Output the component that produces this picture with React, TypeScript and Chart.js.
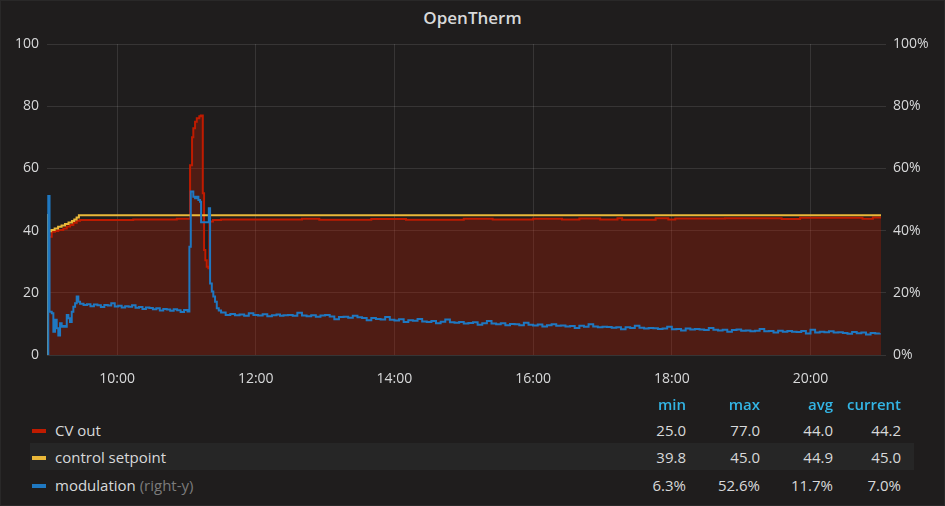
import React, { useEffect, useRef } from "react";
import { Chart, registerables } from "chart.js";

Chart.register(...registerables);

// ---------- data (time = minutes since midnight) ----------
const X_MIN = 539.4;
const X_MAX = 1261;

const xTickMinutes = [600, 720, 840, 960, 1080, 1200];
const xTickLabels = ["10:00", "12:00", "14:00", "16:00", "18:00", "20:00"];
const leftTicks = [0, 20, 40, 60, 80, 100];
const leftTickLabels = ["0", "20", "40", "60", "80", "100"];
const rightTickLabels = ["0%", "20%", "40%", "60%", "80%", "100%"];

// CV out (left axis)
const cvTimes = [
  540.5, 543.5, 546.3, 549.2, 553.5, 556.5, 559.3, 562.2, 565.1, 568, 614, 651.7,
  663.2, 664.9, 666, 667.5, 669, 671.2, 672.5, 674.2, 675.3, 676.4, 677.6, 679, 679.9,
  683, 690, 760, 775, 820, 850, 900, 925, 960, 985, 1000, 1018, 1033, 1037, 1066, 1077,
  1083, 1126, 1175, 1191, 1245, 1254, 1261,
];
const cvValues = [
  38.0, 39.6, 39.9, 40.2, 40.7, 41.3, 41.8, 42.5, 43.2, 43.4, 43.6, 43.8,
  61.0, 70.0, 72.9, 75.0, 76.1, 76.8, 77.0, 52.0, 33.8, 30.5, 28.4, 27.9, 42.9,
  43.4, 43.6, 43.8, 43.5, 43.7, 43.5, 43.8, 43.6, 43.8, 43.6, 43.9, 43.6, 44.0, 43.5, 44.0, 43.6,
  43.9, 44.0, 43.7, 44.1, 43.8, 44.2, 44.2,
];

// control setpoint (left axis)
const spTimes = [539.4, 539.6, 540.5, 543, 546, 549, 552, 555, 558, 561, 563, 565, 567, 1261];
const spValues = [0, 45.0, 39.8, 40.2, 40.7, 41.2, 41.6, 42.1, 42.6, 43.1, 43.6, 44.2, 44.9, 44.9];

// modulation (right axis, %)
const modHeadTimes = [
  539.9, 540.5, 541.6, 543.5, 544.9, 546.3, 547.8, 549.2, 550.7, 552.1, 553.5, 555, 556.5,
  557.9, 559.3, 560.8, 562.2, 563.7, 565.1, 566.5,
  568, 571, 574, 577, 580, 583, 586, 589, 592, 595, 598, 601, 604, 607, 610, 613, 616, 619,
  622, 625, 628, 631, 634, 637, 640, 643, 646, 649, 652, 655, 658, 661,
  662.6, 663.8, 666, 667.5, 669, 670.4, 671.8, 672.7, 679.4, 680.5, 682, 683.3, 684.8,
  686.3, 688, 690, 694, 698, 702, 706, 710, 714, 718, 722, 726, 730, 734, 738, 741,
];
const modHeadValues = [
  0, 51.1, 13.9, 13.4, 7.5, 11.3, 8.6, 6.3, 10.2, 9.1, 9.3, 9.1, 12.9,
  11.8, 10.6, 13.9, 15.5, 16.6, 18.8, 17.1,
  16.5, 16.1, 16.3, 15.7, 16.2, 16.0, 15.4, 16.1, 15.9, 16.6, 15.6, 15.8, 15.3, 15.7, 15.5, 16.0,
  15.2, 15.4, 14.8, 15.3, 15.1, 14.7, 15.0, 14.3, 14.8, 14.6, 14.2, 14.7, 14.4, 13.8, 14.5, 14.0,
  34.8, 52.6, 50.9, 50.4, 50.9, 49.8, 49.3, 42.7, 47.2, 23.0, 20.4, 18.8, 17.1,
  15.0, 14.3, 13.7, 12.9, 13.2, 12.8, 13.0, 12.6, 13.4, 12.9, 12.7, 13.1, 12.5, 12.8, 13.0, 12.6,
];
// tail samples every 4 minutes from 12:24 to 21:00
const modTailStart = 744;
const modTailStep = 4;
const modTailValues = [
  12.8, 12.9, 12.6, 13.6, 12.7, 12.5, 12.8, 12.3, 12.7, 12.9,
  12.4, 11.5, 12.2, 12.3, 12.0, 12.6, 12.1, 11.9, 11.2, 11.9,
  11.6, 11.4, 12.2, 11.3, 11.1, 11.5, 10.6, 11.2, 11.0, 11.6,
  10.8, 10.6, 10.9, 10.2, 10.7, 11.4, 10.5, 10.4, 10.6, 10.1,
  10.3, 10.5, 9.7, 10.2, 10.9, 10.1, 9.9, 10.2, 9.6, 10.0,
  9.9, 9.6, 10.4, 9.7, 9.5, 9.8, 9.2, 9.6, 9.9, 9.4,
  9.5, 9.2, 9.3, 8.7, 9.4, 9.1, 9.9, 9.2, 8.9, 9.1,
  9.0, 8.8, 8.9, 8.3, 8.9, 8.7, 9.4, 8.8, 8.5, 8.7,
  8.6, 8.4, 8.5, 9.1, 8.3, 8.4, 7.9, 8.5, 8.2, 8.4,
  8.2, 8.0, 8.7, 8.1, 7.9, 8.1, 7.5, 8.0, 8.2, 7.8,
  7.9, 7.6, 7.8, 8.4, 7.6, 7.7, 7.2, 7.8, 7.5, 7.7,
  7.5, 7.4, 7.7, 6.9, 8.1, 7.2, 7.5, 7.3, 7.6, 7.2,
  7.3, 7.1, 6.8, 7.4, 7.0, 7.2, 6.6, 7.1, 6.9, 7.0,
];

// legend table
const seriesNames = ["CV out", "control setpoint", "modulation"];
const seriesSuffix = ["", "", "(right-y)"];
const statHeaders = ["min", "max", "avg", "current"];
const statMin = ["25.0", "39.8", "6.3%"];
const statMax = ["77.0", "45.0", "52.6%"];
const statAvg = ["44.0", "44.9", "11.7%"];
const statCurrent = ["44.2", "45.0", "7.0%"];

// ---------- styles ----------
const BG = "#1f1d1d";
const TEXT = "#d8d9da";
const GRID = "rgba(255,255,255,0.11)";
const RED = "#bf1b00";
const YELLOW = "#eab839";
const BLUE = "#1f78c1";
const FONT = "'Open Sans', 'DejaVu Sans', sans-serif";

const toPoints = (ts: number[], vs: number[]) => ts.map((t, i) => ({ x: t, y: vs[i] }));

export default function App() {
  const canvasRef = useRef<HTMLCanvasElement | null>(null);

  useEffect(() => {
    const canvas = canvasRef.current;
    if (!canvas) return;
    const modTimes = modHeadTimes.concat(modTailValues.map((_, i) => modTailStart + i * modTailStep));
    const modValues = modHeadValues.concat(modTailValues);

    const tickFont = { family: "'Open Sans', sans-serif", size: 14 };

    const chart = new Chart(canvas, {
      type: "line",
      data: {
        datasets: [
          {
            label: "modulation",
            data: toPoints(modTimes, modValues),
            yAxisID: "y1",
            borderColor: BLUE,
            borderWidth: 2,
            pointRadius: 0,
            stepped: true,
            fill: false,
            order: 1,
          },
          {
            label: "control setpoint",
            data: toPoints(spTimes, spValues),
            yAxisID: "y",
            borderColor: YELLOW,
            borderWidth: 2,
            pointRadius: 0,
            stepped: true,
            fill: false,
            order: 2,
          },
          {
            label: "CV out",
            data: toPoints(cvTimes, cvValues),
            yAxisID: "y",
            borderColor: RED,
            backgroundColor: "rgba(191,27,0,0.3)",
            borderWidth: 2,
            pointRadius: 0,
            stepped: true,
            fill: "origin",
            order: 3,
          },
        ],
      },
      options: {
        responsive: false,
        animation: false,
        devicePixelRatio: 1,
        layout: { padding: { top: 44, left: 0, right: 0, bottom: 0 } },
        plugins: { legend: { display: false }, tooltip: { enabled: false }, title: { display: false } },
        scales: {
          x: {
            type: "linear",
            min: X_MIN,
            max: X_MAX,
            z: 1,
            afterBuildTicks: (s: any) => {
              s.ticks = xTickMinutes.map((v) => ({ value: v }));
            },
            afterFit: (s: any) => {
              s.height = 40;
            },
            ticks: {
              color: TEXT,
              font: tickFont,
              padding: 16,
              maxRotation: 0,
              autoSkip: false,
              callback: (v: any) => {
                const i = xTickMinutes.indexOf(Number(v));
                return i >= 0 ? xTickLabels[i] : "";
              },
            },
            grid: { color: GRID, drawTicks: false, lineWidth: 1 },
            border: { display: false },
          },
          y: {
            position: "left",
            min: 0,
            max: 100,
            z: 1,
            afterBuildTicks: (s: any) => {
              s.ticks = leftTicks.map((v) => ({ value: v }));
            },
            afterFit: (s: any) => {
              s.width = 47;
            },
            ticks: {
              color: TEXT,
              font: tickFont,
              padding: 8,
              callback: (v: any) => {
                const i = leftTicks.indexOf(Number(v));
                return i >= 0 ? leftTickLabels[i] : "";
              },
            },
            grid: { color: GRID, drawTicks: false, lineWidth: 1 },
            border: { display: false },
          },
          y1: {
            position: "right",
            min: 0,
            max: 100,
            z: 1,
            afterBuildTicks: (s: any) => {
              s.ticks = leftTicks.map((v) => ({ value: v }));
            },
            afterFit: (s: any) => {
              s.width = 64;
            },
            ticks: {
              color: TEXT,
              font: tickFont,
              padding: 7,
              callback: (v: any) => {
                const i = leftTicks.indexOf(Number(v));
                return i >= 0 ? rightTickLabels[i] : "";
              },
            },
            grid: { color: GRID, drawOnChartArea: false, tickLength: 5, lineWidth: 1 },
            border: { display: false },
          },
        },
      },
    } as any);
    return () => chart.destroy();
  }, []);

  const colRight = [686, 760, 833, 901];
  const rowCenters = [430, 457, 485];
  const markerColors = [RED, YELLOW, BLUE];
  const stats = [statMin, statMax, statAvg, statCurrent];

  const cell = (text: string, right: number, center: number, extra: any = {}) => (
    <div
      style={{
        position: "absolute",
        left: right - 100,
        width: 100,
        top: center - 10,
        height: 20,
        lineHeight: "20px",
        textAlign: "right",
        whiteSpace: "nowrap",
        ...extra,
      }}
    >
      {text}
    </div>
  );

  return (
    <div
      style={{
        position: "fixed",
        left: 0,
        top: 0,
        width: 945,
        height: 506,
        background: BG,
        fontFamily: FONT,
        color: TEXT,
        fontSize: 15,
        overflow: "hidden",
        boxSizing: "border-box",
      }}
    >
      <div
        style={{
          position: "absolute",
          left: 0,
          top: 0,
          width: 945,
          height: 506,
          boxSizing: "border-box",
          border: "1px solid #292828",
          pointerEvents: "none",
          zIndex: 3,
        }}
      />
      <div
        style={{
          position: "absolute",
          left: 0,
          top: 8,
          width: 945,
          textAlign: "center",
          fontSize: 17,
          fontWeight: 600,
          lineHeight: "20px",
          color: TEXT,
        }}
      >
        OpenTherm
      </div>
      <canvas
        ref={canvasRef}
        width={945}
        height={395}
        style={{ position: "absolute", left: 0, top: 0, width: 945, height: 395 }}
      />
      {/* legend table */}
      <div style={{ position: "absolute", left: 30, top: 443, width: 884, height: 27, background: "#262626" }} />
      {statHeaders.map((h, i) => (
        <React.Fragment key={"h" + i}>
          {cell(h, colRight[i], 404, { color: "#33b5e5", fontWeight: 600 })}
        </React.Fragment>
      ))}
      {seriesNames.map((name, r) => (
        <React.Fragment key={name}>
          <div
            style={{
              position: "absolute",
              left: 32,
              top: rowCenters[r] - 1,
              width: 14,
              height: 4,
              background: markerColors[r],
            }}
          />
          <div
            style={{
              position: "absolute",
              left: 55,
              top: rowCenters[r] - 10,
              height: 20,
              lineHeight: "20px",
              whiteSpace: "nowrap",
            }}
          >
            {name}
            {seriesSuffix[r] ? <span style={{ color: "#7b7b7b" }}> {seriesSuffix[r]}</span> : null}
          </div>
          {stats.map((col, c) => (
            <React.Fragment key={c}>{cell(col[r], colRight[c], rowCenters[r])}</React.Fragment>
          ))}
        </React.Fragment>
      ))}
    </div>
  );
}
